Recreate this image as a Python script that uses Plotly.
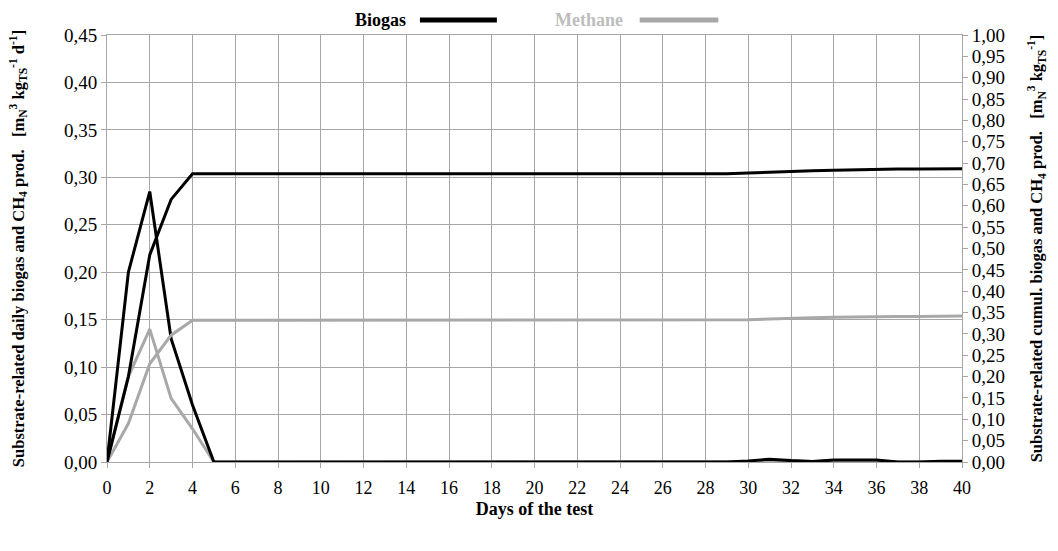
import plotly.graph_objects as go

# Test days
days = list(range(0, 41))

# Daily production, left axis [m3/kg TS/d]
biogas_daily = [0, 0.200, 0.285, 0.130, 0.060, 0] + [0] * 24 + [
    0.001, 0.003, 0.0015, 0.0005, 0.002, 0.002, 0.002, 0, 0, 0.0008, 0.0008]
methane_daily = [0, 0.090, 0.140, 0.067, 0.035, 0] + [0] * 24 + [
    0.0005, 0.0015, 0.001, 0.0005, 0.001, 0.001, 0.001, 0, 0, 0.0005, 0.0005]

# Cumulative production, right axis [m3/kg TS]
biogas_cumul = [0, 0.200, 0.485, 0.615, 0.675] + [0.675] * 25 + [
    0.677, 0.679, 0.681, 0.682, 0.683, 0.684, 0.686, 0.686, 0.686, 0.687, 0.687]
methane_cumul = [0, 0.090, 0.230, 0.297, 0.332] + [0.332] * 25 + [
    0.333, 0.335, 0.337, 0.338, 0.339, 0.340, 0.340, 0.341, 0.341, 0.342, 0.342]

BLACK = "#000000"
GRAY = "#a8a8a8"
GRID = "#a6a6a6"
FONT = "Liberation Serif"

fig = go.Figure()
fig.add_trace(go.Scatter(x=days, y=methane_daily, mode="lines", name="Methane",
                         line=dict(color=GRAY, width=3), showlegend=False))
fig.add_trace(go.Scatter(x=days, y=methane_cumul, mode="lines", name="Methane",
                         line=dict(color=GRAY, width=3), yaxis="y2", showlegend=False))
fig.add_trace(go.Scatter(x=days, y=biogas_daily, mode="lines", name="Biogas",
                         line=dict(color=BLACK, width=3), showlegend=False))
fig.add_trace(go.Scatter(x=days, y=biogas_cumul, mode="lines", name="Biogas",
                         line=dict(color=BLACK, width=3), yaxis="y2", showlegend=False))

fig.update_layout(
    width=1058, height=551,
    margin=dict(l=107, r=96, t=35, b=89),
    paper_bgcolor="white", plot_bgcolor="white",
    separators=",.",
    font=dict(family=FONT, size=17, color="#000"),
    xaxis=dict(range=[0, 40], dtick=2, tick0=0, showgrid=True, gridcolor=GRID,
               gridwidth=1, mirror=True, ticklabelstandoff=4,
               tickfont=dict(family=FONT, size=18, color="#000"),
               title=dict(text="<b>Days of the test</b>", font=dict(family=FONT, size=18),
                          standoff=5)),
    yaxis=dict(range=[0, 0.45], dtick=0.05, tick0=0, tickformat=".2f",
               showgrid=True, gridcolor=GRID, gridwidth=1,
               tickfont=dict(family=FONT, size=19, color="#000"),
               title=dict(text="<b>Substrate-related daily biogas and CH<sub>4</sub> prod.   "
                               "[m<sub>N</sub><sup>3</sup> kg<sub>TS</sub><sup>-1</sup> d<sup>-1</sup>]</b>",
                          font=dict(family=FONT, size=16.5), standoff=35)),
    yaxis2=dict(range=[0, 1.0], dtick=0.05, tick0=0, tickformat=".2f",
                overlaying="y", side="right", showgrid=False,
                tickfont=dict(family=FONT, size=19, color="#000"),
                title=dict(text="<b>Substrate-related cumul. biogas and CH<sub>4</sub> prod.   "
                                "[m<sub>N</sub><sup>3</sup> kg<sub>TS</sub><sup>-1</sup>]</b>",
                           font=dict(family=FONT, size=16.5), standoff=26)),
)

# Shared axis line / tick styling
for upd in (fig.update_xaxes, fig.update_yaxes):
    upd(showline=True, linecolor=GRID, linewidth=1, ticks="outside", ticklen=5,
        tickcolor=GRID, zeroline=False)

# Legend drawn as text labels followed by line samples
LEG_Y = 1.0 + 15 / 427
fig.add_annotation(x=0.352, y=LEG_Y, xref="paper", yref="paper", yanchor="middle",
                   xanchor="right", text="<b>Biogas</b>", showarrow=False,
                   font=dict(family=FONT, size=18, color=BLACK))
fig.add_shape(type="line", xref="paper", yref="paper", x0=0.366, x1=0.456,
              y0=LEG_Y, y1=LEG_Y, line=dict(color=BLACK, width=5))
fig.add_annotation(x=0.606, y=LEG_Y, xref="paper", yref="paper", yanchor="middle",
                   xanchor="right", text="<b>Methane</b>", showarrow=False,
                   font=dict(family=FONT, size=18, color="#bdbdbd"))
fig.add_shape(type="line", xref="paper", yref="paper", x0=0.623, x1=0.715,
              y0=LEG_Y, y1=LEG_Y, line=dict(color=GRAY, width=5))

fig.write_html("out.html")
